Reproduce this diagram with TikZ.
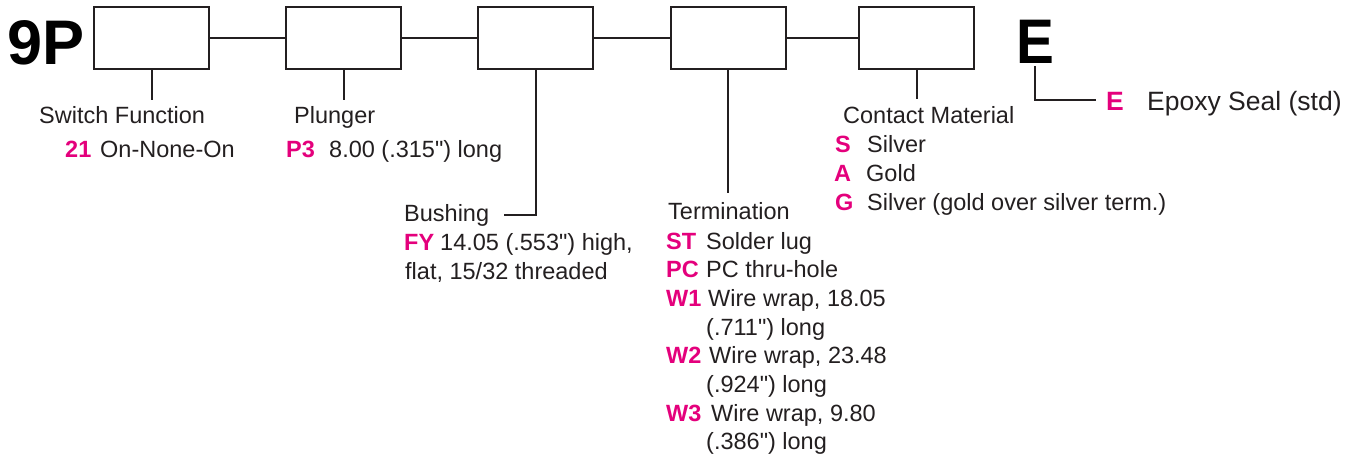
\documentclass[tikz,border=0pt]{standalone}
\usepackage{fontspec}
\setmainfont{Liberation Sans}[Ligatures=TeXOff]
\definecolor{codecol}{RGB}{228,0,124}
\definecolor{ink}{RGB}{35,31,32}
\begin{document}
\begin{tikzpicture}[x=1pt,y=-1pt,
  slot/.style={draw=ink,line width=2pt,minimum width=115pt,minimum height=62pt,inner sep=0pt},
  wire/.style={draw=ink,line width=2pt},
  lbl/.style={anchor=base west,inner sep=0pt,text=ink,font=\fontsize{23.5}{28}\selectfont},
  codelbl/.style={anchor=base west,inner sep=0pt,text=codecol,font=\fontsize{23.5}{28}\selectfont\bfseries},
  biglbl/.style={anchor=base west,inner sep=0pt,text=black,font=\fontsize{63}{70}\selectfont\bfseries},
]
\useasboundingbox (0,0) rectangle (1360,457);

% prefix and suffix
\node[biglbl] (p9) at (7,65) {9P};
\node[biglbl,xscale=0.9] (sufE) at (1016,64) {E};

% boxes
\node[slot] (b1) at (151.5,38) {};
\node[slot] (b2) at (343.5,38) {};
\node[slot] (b3) at (535.5,38) {};
\node[slot] (b4) at (728,38) {};
\node[slot] (b5) at (916.5,38) {};

\draw[wire] (b1.east) -- (b2.west);
\draw[wire] (b2.east) -- (b3.west);
\draw[wire] (b3.east) -- (b4.west);
\draw[wire] (b4.east) -- (b5.west);

% stems
\coordinate (s1) at (151.5,100);
\coordinate (s2) at (343.5,100);
\coordinate (s3a) at (535.5,215);
\coordinate (s3b) at (504,215);
\coordinate (s4) at (728,193);
\coordinate (s5) at (916.5,99);
\coordinate (e0) at (1035,66);
\coordinate (e1) at (1035,100);
\coordinate (e2) at (1096,100);

\draw[wire] (b1.south) -- (s1);
\draw[wire] (b2.south) -- (s2);
\draw[wire] (b3.south) -- (s3a) -- (s3b);
\draw[wire] (b4.south) -- (s4);
\draw[wire] (b5.south) -- (s5);
\draw[wire] (e0) -- (e1) -- (e2);

% Switch function
\node[lbl] (sf) at (39,124) {Switch Function};
\node[codelbl] (c21) at (65,158) {21};
\node[lbl] (t21) at (100,158) {On-None-On};

% Plunger
\node[lbl] (pl) at (294,124) {Plunger};
\node[codelbl] (cp3) at (286,158) {P3};
\node[lbl] (tp3) at (329,158) {8.00 (.315") long};

% Bushing
\node[lbl] (bu) at (404,222) {Bushing};
\node[codelbl] (cfy) at (404,251) {FY};
\node[lbl] (tfy) at (440,251) {14.05 (.553") high,};
\node[lbl] (tfy2) at (405,279) {flat, 15/32 threaded};

% Termination
\node[lbl] (te) at (668,220) {Termination};
\node[codelbl] (cst) at (666,249) {ST};
\node[lbl] (tst) at (706,249) {Solder lug};
\node[codelbl] (cpc) at (666,277.5) {PC};
\node[lbl] (tpc) at (706,277.5) {PC thru-hole};
\node[codelbl] (cw1) at (666,306) {W1};
\node[lbl] (tw1) at (708,306) {Wire wrap, 18.05};
\node[lbl] (tw1b) at (706,335) {(.711") long};
\node[codelbl] (cw2) at (666,363.5) {W2};
\node[lbl] (tw2) at (709,363.5) {Wire wrap, 23.48};
\node[lbl] (tw2b) at (706,392) {(.924") long};
\node[codelbl] (cw3) at (666,421) {W3};
\node[lbl] (tw3) at (711,421) {Wire wrap, 9.80};
\node[lbl] (tw3b) at (706,449) {(.386") long};

% Contact material
\node[lbl] (cm) at (843,124) {Contact Material};
\node[codelbl] (cs) at (835,153) {S};
\node[lbl] (ts) at (867,153) {Silver};
\node[codelbl] (ca) at (834,182) {A};
\node[lbl] (ta) at (866,182) {Gold};
\node[codelbl] (cg) at (835,211) {G};
\node[lbl] (tg) at (867,211) {Silver (gold over silver term.)};

% Epoxy
\node[codelbl,font=\fontsize{26.5}{30}\selectfont\bfseries] (ce) at (1106,111) {E};
\node[lbl,font=\fontsize{26.5}{30}\selectfont] (tepo) at (1147,111) {Epoxy Seal (std)};
\end{tikzpicture}
\end{document}
